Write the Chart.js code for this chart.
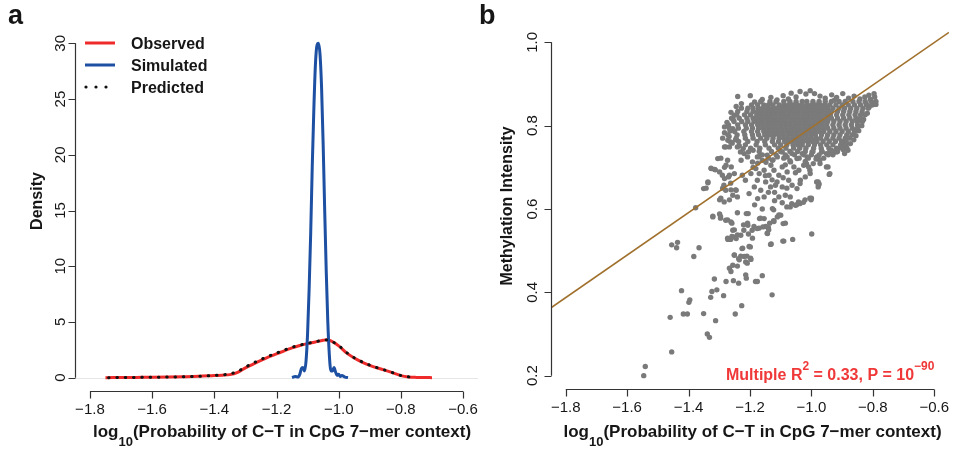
<!DOCTYPE html>
<html>
<head>
<meta charset="utf-8">
<script src="https://cdn.jsdelivr.net/npm/chart.js@4.4.1/dist/chart.umd.min.js"></script>
<style>
	html, body { margin: 0; padding: 0; background: #fff; overflow: hidden; }
	#wrap { position: relative; width: 953px; height: 457px; }
	.panel { position: absolute; top: 0; height: 457px; }
	#panelA { left: 0; width: 480px; }
	#panelB { left: 476px; width: 477px; }
</style>
</head>
<body>
<div id="wrap">
	<div class="panel" id="panelA"><canvas id="chartA" width="480" height="457"></canvas></div>
	<div class="panel" id="panelB"><canvas id="chartB" width="477" height="457"></canvas></div>
</div>
<script>
// 공통 축 눈금
const xTicks = [-1.8, -1.6, -1.4, -1.2, -1.0, -0.8, -0.6];
const densityTicks = [0, 5, 10, 15, 20, 25, 30];
const methTicks = [0.2, 0.4, 0.6, 0.8, 1.0];

// a: 밀도 곡선
const obsX = [-1.75, -1.70, -1.65, -1.60, -1.55, -1.50, -1.45, -1.40, -1.375, -1.35, -1.325, -1.30, -1.275, -1.25, -1.225, -1.20, -1.175, -1.15, -1.125, -1.10, -1.075, -1.05, -1.04, -1.025, -1.00, -0.975, -0.95, -0.925, -0.90, -0.875, -0.85, -0.825, -0.80, -0.775, -0.75, -0.725, -0.70];
const obsY = [0.0, 0.01, 0.02, 0.03, 0.05, 0.08, 0.12, 0.19, 0.22, 0.27, 0.48, 0.88, 1.22, 1.55, 1.86, 2.13, 2.41, 2.67, 2.88, 3.05, 3.20, 3.35, 3.40, 3.30, 2.85, 2.22, 1.76, 1.40, 1.10, 0.86, 0.65, 0.42, 0.18, 0.06, 0.02, 0.005, 0.0];

const predX = [-1.74, -1.70, -1.65, -1.60, -1.55, -1.50, -1.45, -1.40, -1.375, -1.35, -1.325, -1.30, -1.275, -1.25, -1.225, -1.20, -1.175, -1.15, -1.125, -1.10, -1.075, -1.05, -1.04, -1.025, -1.00, -0.975, -0.95, -0.925, -0.90, -0.875, -0.85, -0.825, -0.80, -0.775, -0.75];
const predY = [0.0, 0.01, 0.02, 0.03, 0.05, 0.08, 0.12, 0.20, 0.25, 0.33, 0.56, 0.95, 1.30, 1.63, 1.93, 2.20, 2.47, 2.72, 2.92, 3.08, 3.22, 3.36, 3.38, 3.28, 2.88, 2.26, 1.78, 1.42, 1.12, 0.88, 0.66, 0.43, 0.19, 0.07, 0.02];

const simX = [-1.15, -1.14, -1.13, -1.125, -1.12, -1.115, -1.11, -1.105, -1.10, -1.095, -1.09, -1.085, -1.08, -1.075, -1.07, -1.065, -1.06, -1.055, -1.05, -1.045, -1.04, -1.035, -1.03, -1.025, -1.02, -1.015, -1.01, -1.005, -1.00, -0.995, -0.99, -0.98, -0.97];
const simY = [0.0, 0.1, 0.05, 0.3, 0.8, 0.9, 0.6, 1.5, 4.0, 8.0, 13.0, 19.0, 24.0, 28.0, 29.8, 30.0, 29.0, 26.0, 21.0, 15.0, 9.5, 5.0, 2.0, 0.6, 0.6, 0.9, 0.5, 0.2, 0.3, 0.1, 0.2, 0.05, 0.0];

// b: 회귀선 (플롯 영역 양 끝)
const fitX = [-1.848, -0.552];
const fitY = [0.363, 1.024];

// b: 흩어진 점들 [x, y]
const sparsePts = [
	[-1.546, 0.200], [-1.541, 0.222], [-1.455, 0.257], [-1.460, 0.340], [-1.423, 0.404],
	[-1.455, 0.514], [-1.436, 0.520], [-1.439, 0.507], [-1.383, 0.486], [-1.366, 0.507],
	[-1.396, 0.382], [-1.399, 0.376], [-1.417, 0.348], [-1.404, 0.348], [-1.351, 0.349],
	[-1.339, 0.300], [-1.332, 0.292], [-1.312, 0.332], [-1.328, 0.388], [-1.324, 0.402],
	[-1.308, 0.406], [-1.316, 0.432], [-1.286, 0.392], [-1.278, 0.426], [-1.248, 0.348],
	[-1.227, 0.368], [-1.254, 0.428], [-1.237, 0.422], [-1.212, 0.434], [-1.182, 0.426],
	[-1.160, 0.440], [-1.128, 0.394], [-1.176, 0.426],
	[-1.267, 0.458], [-1.262, 0.450], [-1.241, 0.463], [-1.214, 0.442], [-1.256, 0.465],
	[-1.251, 0.489], [-1.237, 0.481], [-1.230, 0.487], [-1.210, 0.487], [-1.197, 0.479], [-1.214, 0.473],
	[-1.235, 0.478], [-1.219, 0.486], [-1.198, 0.482], [-1.209, 0.470], [-1.251, 0.490],
	[-1.226, 0.505], [-1.199, 0.509], [-1.224, 0.506], [-1.203, 0.510],
	[-1.273, 0.530], [-1.259, 0.534], [-1.241, 0.538], [-1.205, 0.540], [-1.192, 0.530],
	[-1.272, 0.527], [-1.263, 0.527], [-1.254, 0.533], [-1.245, 0.529],
	[-1.251, 0.550], [-1.256, 0.549], [-1.230, 0.537], [-1.220, 0.549], [-1.207, 0.561],
	[-1.187, 0.558], [-1.171, 0.554], [-1.221, 0.562], [-1.208, 0.566],
	[-1.273, 0.574], [-1.259, 0.566], [-1.279, 0.573], [-1.262, 0.569],
	[-1.321, 0.583], [-1.299, 0.588], [-1.296, 0.578], [-1.241, 0.591], [-1.206, 0.589],
	[-1.144, 0.542], [-1.131, 0.516], [-1.093, 0.523], [-1.061, 0.527], [-0.999, 0.540],
	[-1.133, 0.515], [-1.090, 0.523],
	[-1.193, 0.549], [-1.177, 0.553], [-1.158, 0.557], [-1.169, 0.577], [-1.143, 0.541], [-1.140, 0.555],
	[-1.154, 0.577], [-1.136, 0.566], [-1.122, 0.570], [-1.111, 0.581], [-1.100, 0.585], [-1.092, 0.565],
	[-1.085, 0.566], [-1.139, 0.550], [-1.123, 0.572], [-1.106, 0.586], [-1.166, 0.578], [-1.149, 0.558],
	[-1.127, 0.601], [-1.080, 0.605], [-1.064, 0.613], [-1.048, 0.610], [-1.042, 0.617], [-1.021, 0.622],
	[-1.005, 0.626], [-1.069, 0.629], [-1.123, 0.598], [-1.052, 0.609], [-1.001, 0.622], [-1.212, 0.589],
	[-1.069, 0.605], [-1.037, 0.613], [-1.026, 0.616],
	[-1.377, 0.603], [-1.351, 0.649], [-1.337, 0.663], [-1.326, 0.697], [-1.313, 0.694], [-1.305, 0.721],
	[-1.327, 0.698], [-1.315, 0.695], [-1.283, 0.700], [-1.343, 0.650], [-1.337, 0.665],
	[-1.321, 0.581], [-1.296, 0.582], [-1.299, 0.622], [-1.284, 0.617], [-1.295, 0.626], [-1.267, 0.622],
	[-1.241, 0.629], [-1.289, 0.650], [-1.262, 0.646], [-1.247, 0.646], [-1.263, 0.662], [-1.283, 0.673],
	[-1.267, 0.681], [-1.225, 0.681], [-1.215, 0.669], [-1.285, 0.657], [-1.279, 0.645], [-1.245, 0.645],
	[-1.256, 0.633], [-1.290, 0.681], [-1.270, 0.677], [-1.261, 0.701], [-1.251, 0.685], [-1.278, 0.705],
	[-1.299, 0.689], [-1.273, 0.717], [-1.295, 0.722], [-1.283, 0.749], [-1.267, 0.749], [-1.272, 0.765],
	[-1.279, 0.749], [-1.263, 0.761], [-1.231, 0.737], [-1.241, 0.749], [-1.289, 0.770], [-1.283, 0.797],
	[-1.251, 0.825], [-1.256, 0.793], [-1.265, 0.787],
	[-1.203, 0.637], [-1.186, 0.653], [-1.176, 0.669], [-1.165, 0.645], [-1.154, 0.629], [-1.149, 0.665],
	[-1.133, 0.653], [-1.117, 0.657], [-1.106, 0.629], [-1.095, 0.653], [-1.085, 0.633], [-1.074, 0.669],
	[-1.063, 0.657], [-1.047, 0.649], [-1.036, 0.669], [-1.020, 0.677], [-1.004, 0.685], [-0.983, 0.665],
	[-0.977, 0.657], [-0.951, 0.701], [-0.940, 0.685], [-0.978, 0.665], [-0.978, 0.653], [-1.000, 0.626],
	[-1.005, 0.693], [-0.946, 0.701], [-0.973, 0.717], [-0.942, 0.683], [-0.975, 0.660], [-1.037, 0.661],
	[-1.197, 0.685], [-1.181, 0.697], [-1.170, 0.685], [-1.154, 0.693], [-1.138, 0.681], [-1.122, 0.693],
	[-1.106, 0.681], [-1.095, 0.701], [-1.079, 0.689], [-1.057, 0.701], [-1.041, 0.693], [-1.025, 0.705],
	[-1.009, 0.701], [-0.994, 0.709], [-0.972, 0.709], [-1.016, 0.709], [-0.978, 0.725],
	[-1.190, 0.700], [-1.175, 0.710], [-1.148, 0.712], [-1.132, 0.705], [-1.085, 0.706], [-1.068, 0.713],
	[-1.150, 0.680], [-1.128, 0.670], [-1.112, 0.665], [-1.092, 0.675], [-1.052, 0.687],
	[-1.140, 0.640], [-1.120, 0.640], [-1.080, 0.650], [-1.120, 0.620], [-1.095, 0.615], [-1.160, 0.600],
	[-1.185, 0.610], [-1.175, 0.625],
	[-1.229, 0.717], [-1.219, 0.733], [-1.208, 0.725], [-1.192, 0.713], [-1.176, 0.725], [-1.160, 0.717],
	[-1.144, 0.729], [-1.127, 0.717], [-1.111, 0.725], [-1.095, 0.737], [-1.079, 0.725], [-1.063, 0.733],
	[-1.047, 0.721], [-1.030, 0.733], [-1.014, 0.725], [-0.998, 0.737], [-0.983, 0.725], [-0.967, 0.737],
	[-0.951, 0.733], [-0.935, 0.741], [-0.918, 0.737], [-0.902, 0.749], [-0.892, 0.733], [-0.881, 0.741],
	[-0.924, 0.737], [-0.887, 0.757],
	[-1.240, 0.870], [-1.199, 0.872], [-0.796, 0.877], [-0.813, 0.873], [-0.790, 0.851], [-0.822, 0.853]
];

// b: 덩어리 가장자리 점들 [x, y]
const clusterEdge = [
	[-1.185, 0.857], [-1.160, 0.863], [-1.132, 0.868], [-1.112, 0.862], [-1.092, 0.872], [-1.066, 0.878],
	[-1.050, 0.869], [-1.037, 0.882], [-1.018, 0.876], [-1.004, 0.884], [-0.990, 0.877], [-0.972, 0.871],
	[-0.955, 0.866], [-0.934, 0.874], [-0.918, 0.868], [-0.898, 0.877], [-0.879, 0.866], [-0.861, 0.871],
	[-0.842, 0.864], [-0.826, 0.869], [-0.808, 0.863], [-0.794, 0.869], [-1.075, 0.864], [-0.925, 0.861],
	[-1.262, 0.832], [-1.245, 0.846], [-1.228, 0.853], [-1.275, 0.808], [-1.283, 0.783], [-1.268, 0.774],
	[-1.258, 0.758], [-1.247, 0.766], [-1.235, 0.752], [-1.222, 0.745], [-1.205, 0.737], [-1.190, 0.741],
	[-1.255, 0.815],
	[-0.812, 0.845], [-0.818, 0.830], [-0.830, 0.815], [-0.836, 0.800], [-0.846, 0.788], [-0.855, 0.776],
	[-0.862, 0.766], [-0.873, 0.757], [-0.885, 0.748], [-0.896, 0.742], [-0.793, 0.855], [-0.803, 0.850],
	[-1.170, 0.726], [-1.125, 0.718], [-1.070, 0.716], [-1.020, 0.714], [-0.985, 0.720], [-0.930, 0.730],
	[-0.915, 0.745]
];

// b: 빽빽한 덩어리 (y값, 그 줄의 x값들)
const clusterRows = [
	[0.858, [-1.165, -1.135, -1.115, -1.09, -1.07, -1.05, -1.03, -1.015, -0.995, -0.975, -0.955, -0.935, -0.91, -0.89, -0.865, -0.845, -0.825, -0.805, -0.79]],
	[0.850, [-1.195, -1.175, -1.155, -1.14, -1.125, -1.105, -1.09, -1.075, -1.06, -1.045, -1.03, -1.015, -1.00, -0.985, -0.97, -0.955, -0.94, -0.92, -0.90, -0.88, -0.86, -0.84, -0.82, -0.80]],
	[0.842, [-1.228, -1.207, -1.19, -1.172, -1.157, -1.142, -1.127, -1.112, -1.097, -1.082, -1.067, -1.052, -1.037, -1.022, -1.007, -0.992, -0.977, -0.962, -0.947, -0.93, -0.91, -0.892, -0.872, -0.852, -0.832, -0.815]],
	[0.834, [-1.24, -1.21, -1.19, -1.175, -1.16, -1.145, -1.13, -1.115, -1.10, -1.085, -1.07, -1.055, -1.04, -1.025, -1.01, -0.995, -0.98, -0.965, -0.95, -0.935, -0.915, -0.895, -0.875, -0.855, -0.835]],
	[0.826, [-1.243, -1.218, -1.198, -1.178, -1.163, -1.148, -1.133, -1.118, -1.103, -1.088, -1.073, -1.058, -1.043, -1.028, -1.013, -0.998, -0.983, -0.968, -0.953, -0.938, -0.918, -0.898, -0.878, -0.858, -0.84, -0.825]],
	[0.818, [-1.26, -1.235, -1.21, -1.19, -1.175, -1.16, -1.145, -1.13, -1.115, -1.10, -1.085, -1.07, -1.055, -1.04, -1.025, -1.01, -0.995, -0.98, -0.965, -0.95, -0.935, -0.915, -0.895, -0.875, -0.855, -0.84]],
	[0.810, [-1.252, -1.227, -1.207, -1.187, -1.172, -1.157, -1.142, -1.127, -1.112, -1.097, -1.082, -1.067, -1.052, -1.037, -1.022, -1.007, -0.992, -0.977, -0.962, -0.947, -0.927, -0.907, -0.887, -0.867, -0.85, -0.834]],
	[0.802, [-1.27, -1.24, -1.215, -1.195, -1.175, -1.16, -1.145, -1.13, -1.115, -1.10, -1.085, -1.07, -1.055, -1.04, -1.025, -1.01, -0.995, -0.98, -0.965, -0.95, -0.93, -0.91, -0.89, -0.87, -0.85]],
	[0.794, [-1.267, -1.238, -1.212, -1.192, -1.172, -1.157, -1.142, -1.127, -1.112, -1.097, -1.082, -1.067, -1.052, -1.037, -1.022, -1.007, -0.992, -0.977, -0.962, -0.947, -0.927, -0.907, -0.887, -0.867, -0.85]],
	[0.786, [-1.25, -1.22, -1.195, -1.175, -1.155, -1.14, -1.125, -1.11, -1.095, -1.08, -1.065, -1.05, -1.035, -1.02, -1.005, -0.99, -0.975, -0.96, -0.94, -0.92, -0.90, -0.88, -0.86]],
	[0.778, [-1.272, -1.242, -1.217, -1.192, -1.172, -1.152, -1.137, -1.122, -1.107, -1.092, -1.077, -1.062, -1.047, -1.032, -1.017, -1.002, -0.987, -0.967, -0.947, -0.927, -0.907, -0.885, -0.868]],
	[0.770, [-1.245, -1.215, -1.19, -1.165, -1.145, -1.125, -1.105, -1.09, -1.075, -1.06, -1.045, -1.03, -1.015, -1.00, -0.985, -0.97, -0.95, -0.93, -0.91, -0.89, -0.875]],
	[0.762, [-1.237, -1.207, -1.177, -1.152, -1.127, -1.107, -1.087, -1.072, -1.057, -1.042, -1.027, -1.012, -0.997, -0.982, -0.962, -0.942, -0.922, -0.902, -0.887]],
	[0.754, [-1.215, -1.18, -1.15, -1.12, -1.10, -1.08, -1.06, -1.045, -1.03, -1.01, -0.99, -0.97, -0.95, -0.93, -0.905, -0.89]],
	[0.746, [-1.198, -1.168, -1.138, -1.108, -1.083, -1.058, -1.038, -1.018, -0.993, -0.968, -0.943, -0.918, -0.90]],
	[0.738, [-1.17, -1.13, -1.10, -1.07, -1.045, -1.02, -0.995, -0.965, -0.94, -0.915]],
	[0.730, [-1.16, -1.115, -1.085, -1.055, -1.025, -1.00, -0.975, -0.945]],
	[0.722, [-1.14, -1.09, -1.04, -1.01, -0.96]]
];

const FONT = '"Liberation Sans", Arial, Helvetica, sans-serif';
const RED = '#ee2a2a';
const BLUE = '#1d4fa2';
const GRAY = '#7a7a7a';
const BROWN = '#a0702c';
const AXIS = '#333333';
const TEXT = '#161616';

function toXY(xs, ys) {
	return xs.map(function(x, i) { return { x: x, y: ys[i] }; });
}

function minusLabel(v) {
	const s = Math.abs(v).toFixed(1);
	return v < 0 ? '\u2212' + s : s;
}

// 아래첨자/위첨자가 섞인 굵은 글씨
function drawRich(ctx, parts, x, y, align, color) {
	let total = 0;
	parts.forEach(function(p) {
		ctx.font = 'bold ' + p.size + 'px ' + FONT;
		p.w = ctx.measureText(p.text).width;
		total += p.w;
	});
	let cx = align === 'center' ? x - total / 2 : x;
	ctx.fillStyle = color;
	ctx.textAlign = 'left';
	ctx.textBaseline = 'alphabetic';
	parts.forEach(function(p) {
		ctx.font = 'bold ' + p.size + 'px ' + FONT;
		ctx.fillText(p.text, cx, y + (p.dy || 0));
		cx += p.w;
	});
}

function xTitleParts() {
	return [
		{ text: 'log', size: 17 },
		{ text: '10', size: 13, dy: 9 },
		{ text: '(Probability of C\u2212T in CpG 7\u2212mer context)', size: 17 }
	];
}

// R 스타일 축: 첫 눈금부터 마지막 눈금까지만 선을 긋는다
const rStyleAxes = {
	id: 'rStyleAxes',
	beforeDatasetsDraw: function(chart, args, opts) {
		if (!opts.zeroLine) return;
		const ctx = chart.ctx, area = chart.chartArea;
		const y0 = Math.round(chart.scales.y.getPixelForValue(0)) + 0.5;
		ctx.save();
		ctx.strokeStyle = '#e6e6e6';
		ctx.lineWidth = 1;
		ctx.beginPath();
		ctx.moveTo(area.left, y0);
		ctx.lineTo(area.right, y0);
		ctx.stroke();
		ctx.restore();
	},
	afterDraw: function(chart, args, opts) {
		const ctx = chart.ctx, area = chart.chartArea;
		const xs = chart.scales.x, ys = chart.scales.y;
		const yT = opts.yTicks;
		ctx.save();
		ctx.strokeStyle = AXIS;
		ctx.lineWidth = 1.2;
		ctx.beginPath();
		const bx = area.bottom + 0.5;
		ctx.moveTo(xs.getPixelForValue(xTicks[0]), bx);
		ctx.lineTo(xs.getPixelForValue(xTicks[xTicks.length - 1]), bx);
		xTicks.forEach(function(v) {
			const p = Math.round(xs.getPixelForValue(v)) + 0.5;
			ctx.moveTo(p, bx);
			ctx.lineTo(p, bx + 7);
		});
		const lx = area.left + 0.5;
		ctx.moveTo(lx, ys.getPixelForValue(yT[0]));
		ctx.lineTo(lx, ys.getPixelForValue(yT[yT.length - 1]));
		yT.forEach(function(v) {
			const p = Math.round(ys.getPixelForValue(v)) + 0.5;
			ctx.moveTo(lx, p);
			ctx.lineTo(lx - 7, p);
		});
		ctx.stroke();

		// y 눈금 글자 (세로)
		ctx.fillStyle = TEXT;
		ctx.font = '15px ' + FONT;
		ctx.textAlign = 'center';
		ctx.textBaseline = 'alphabetic';
		yT.forEach(function(v) {
			ctx.save();
			ctx.translate(opts.yLabelX, ys.getPixelForValue(v));
			ctx.rotate(-Math.PI / 2);
			ctx.fillText(opts.yFormat(v), 0, 0);
			ctx.restore();
		});

		// y 축 제목
		ctx.save();
		ctx.font = 'bold 16px ' + FONT;
		ctx.translate(opts.yTitleX, opts.yTitleY);
		ctx.rotate(-Math.PI / 2);
		ctx.fillText(opts.yTitle, 0, 0);
		ctx.restore();

		// x 축 제목
		drawRich(ctx, xTitleParts(), opts.xTitleX, 437, 'center', TEXT);

		// 패널 글자
		ctx.fillStyle = TEXT;
		ctx.font = 'bold 27px ' + FONT;
		ctx.textAlign = 'left';
		ctx.fillText(opts.letter, opts.letterX, 24);

		if (opts.after) opts.after(ctx, chart);
		ctx.restore();
	}
};

function drawLegendA(ctx) {
	const rows = [
		{ label: 'Observed', color: RED, y: 43 },
		{ label: 'Simulated', color: BLUE, y: 65 },
		{ label: 'Predicted', color: '#111', y: 87, dotted: true }
	];
	rows.forEach(function(r) {
		if (r.dotted) {
			ctx.fillStyle = r.color;
			[86, 96, 106].forEach(function(cx) {
				ctx.beginPath();
				ctx.arc(cx, r.y, 1.6, 0, Math.PI * 2);
				ctx.fill();
			});
		} else {
			ctx.strokeStyle = r.color;
			ctx.lineWidth = 3;
			ctx.beginPath();
			ctx.moveTo(85, r.y);
			ctx.lineTo(115, r.y);
			ctx.stroke();
		}
		ctx.fillStyle = TEXT;
		ctx.font = 'bold 16px ' + FONT;
		ctx.textAlign = 'left';
		ctx.textBaseline = 'alphabetic';
		ctx.fillText(r.label, 131, r.y + 6);
	});
}

function drawNoteB(ctx) {
	drawRich(ctx, [
		{ text: 'Multiple R', size: 16 },
		{ text: '2', size: 12, dy: -10 },
		{ text: ' = 0.33, P = 10', size: 16 },
		{ text: '\u221290', size: 12, dy: -10 }
	], 250, 380, 'left', '#f03838');
}

function xScale(height) {
	return {
		type: 'linear',
		min: -1.848,
		max: -0.552,
		afterBuildTicks: function(s) { s.ticks = xTicks.map(function(v) { return { value: v }; }); },
		afterFit: function(s) {
			s.height = height;
			s.paddingLeft = 0;
			s.paddingRight = 0;
		},
		grid: { display: false, drawTicks: false },
		border: { display: false },
		ticks: {
			padding: 10,
			autoSkip: false,
			maxRotation: 0,
			color: TEXT,
			font: { family: FONT, size: 15 },
			callback: function(v) { return minusLabel(v); }
		}
	};
}

function yScale(min, max, ticks) {
	return {
		type: 'linear',
		min: min,
		max: max,
		afterBuildTicks: function(s) { s.ticks = ticks.map(function(v) { return { value: v }; }); },
		afterFit: function(s) {
			s.width = 75;
			s.paddingTop = 0;
			s.paddingBottom = 0;
		},
		grid: { display: false, drawTicks: false },
		border: { display: false },
		ticks: { display: false }
	};
}

document.addEventListener('DOMContentLoaded', function() {
	// a 패널
	new Chart(document.getElementById('chartA'), {
		type: 'line',
		data: {
			datasets: [
				{
					label: 'Predicted',
					data: toXY(predX, predY),
					borderColor: '#111',
					borderWidth: 3,
					borderDash: [0.5, 7.8],
					borderCapStyle: 'round',
					pointRadius: 0,
					cubicInterpolationMode: 'monotone',
					order: 0
				},
				{
					label: 'Simulated',
					data: toXY(simX, simY),
					borderColor: BLUE,
					borderWidth: 3,
					pointRadius: 0,
					cubicInterpolationMode: 'monotone',
					order: 1
				},
				{
					label: 'Observed',
					data: toXY(obsX, obsY),
					borderColor: RED,
					borderWidth: 3,
					pointRadius: 0,
					cubicInterpolationMode: 'monotone',
					order: 2
				}
			]
		},
		options: {
			responsive: false,
			animation: false,
			layout: { padding: { top: 30, right: 2, bottom: 0, left: 0 } },
			plugins: {
				legend: { display: false },
				tooltip: { enabled: false },
				rStyleAxes: {
					zeroLine: true,
					yTicks: densityTicks,
					yFormat: function(v) { return String(v); },
					yLabelX: 65,
					yTitle: 'Density',
					yTitleX: 41.5,
					yTitleY: 201,
					xTitleX: 282,
					letter: 'a',
					letterX: 8,
					after: drawLegendA
				}
			},
			scales: {
				x: xScale(66),
				y: yScale(-1.2, 31.2, densityTicks)
			}
		},
		plugins: [rStyleAxes]
	});

	// b 패널
	const methPoints = sparsePts.concat(clusterEdge).map(function(p) { return { x: p[0], y: p[1] }; });
	clusterRows.forEach(function(r) {
		r[1].forEach(function(x) { methPoints.push({ x: x, y: r[0] }); });
	});

	new Chart(document.getElementById('chartB'), {
		type: 'scatter',
		data: {
			datasets: [
				{
					label: 'fit',
					data: toXY(fitX, fitY),
					showLine: true,
					borderColor: BROWN,
					borderWidth: 1.6,
					pointRadius: 0,
					order: 0
				},
				{
					label: 'CpG',
					data: methPoints,
					pointRadius: 2.7,
					pointBorderWidth: 0,
					pointBackgroundColor: GRAY,
					order: 1
				}
			]
		},
		options: {
			responsive: false,
			animation: false,
			layout: { padding: { top: 29, right: 0, bottom: 0, left: 0 } },
			plugins: {
				legend: { display: false },
				tooltip: { enabled: false },
				rStyleAxes: {
					zeroLine: false,
					yTicks: methTicks,
					yFormat: function(v) { return v.toFixed(1); },
					yLabelX: 61,
					yTitle: 'Methylation Intensity',
					yTitleX: 35.5,
					yTitleY: 206,
					xTitleX: 276.5,
					letter: 'b',
					letterX: 3,
					after: drawNoteB
				}
			},
			scales: {
				x: xScale(68),
				y: yScale(0.168, 1.032, methTicks)
			}
		},
		plugins: [rStyleAxes]
	});
});
</script>
</body>
</html>
